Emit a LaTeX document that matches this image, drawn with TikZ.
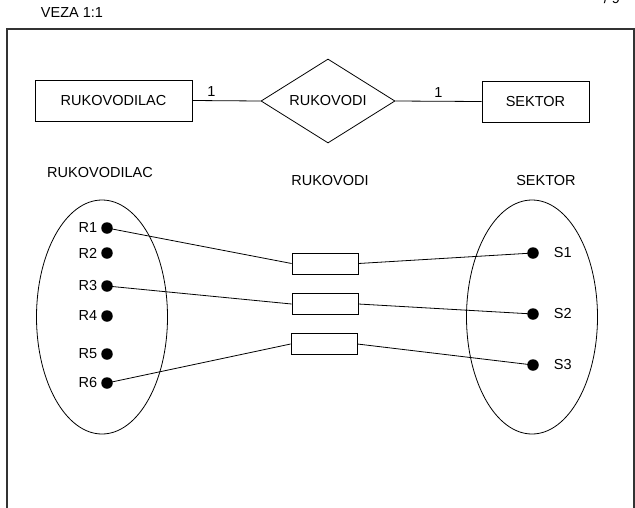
\documentclass[tikz,border=0pt]{standalone}
\usepackage{fontspec}
\setmainfont{Liberation Sans}
\usetikzlibrary{positioning,shapes.geometric}

\begin{document}
\begin{tikzpicture} [
        x=1pt, y=-1pt,
        font=\fontsize{14.5}{16}\selectfont,
        line width=0.8pt,
        entnode/.style={
            rectangle,
            draw,
            minimum height=41pt
        },
        relnode/.style={
            diamond,
            draw,
            aspect=1.6,
            inner sep=1pt,
            minimum width=134pt,
            minimum height=84pt
        },
        setnode/.style={
            ellipse,
            draw,
            minimum width=131pt,
            minimum height=234pt
        },
        dotnode/.style={
            circle,
            fill=black,
            inner sep=0pt,
            minimum size=11.5pt,
            label distance=5pt
        },
        pairnode/.style={
            rectangle,
            draw,
            minimum width=66pt,
            minimum height=21pt
        }
    ]

        \useasboundingbox (0,0) rectangle (635,507);

        % frame and title
        \draw[line width=1.3pt, black!80] (7,520) -- (7,29) -- (634,29) -- (634,520);
        \node (title) at (72,13) {VEZA 1:1};
        \node[anchor=base] (page) at (612,3) {/ 9};

        % ER part
        \node[entnode, minimum width=157pt] (rukovodilac) at (113.5,100.5) {RUKOVODILAC};
        \node[relnode]                      (rukovodi)    at (328,101)     {RUKOVODI};
        \node[entnode, minimum width=107pt] (sektor)      at (535.5,101.5) {SEKTOR};

        \draw (rukovodilac.east) -- node[above, pos=0.28] {1} (rukovodi.west);
        \draw (rukovodi.east)    -- node[above]           {1} (sektor.west);

        % set labels
        \node (lblRukovodilac) at (100,173) {RUKOVODILAC};
        \node (lblRukovodi)    at (330,181) {RUKOVODI};
        \node (lblSektor)      at (546,181) {SEKTOR};

        % sets
        \node[setnode] (setR) at (102,317) {};
        \node[setnode] (setS) at (532,317) {};

        \node[dotnode, label=left:R1] (r1) at (107,228) {};
        \node[dotnode, label=left:R2] (r2) at (107,253) {};
        \node[dotnode, label=left:R3] (r3) at (107,286) {};
        \node[dotnode, label=left:R4] (r4) at (107,316) {};
        \node[dotnode, label=left:R5] (r5) at (107,354) {};
        \node[dotnode, label=left:R6] (r6) at (107,383) {};

        \node[dotnode, label={[label distance=11pt]right:S1}] (s1) at (533,253) {};
        \node[dotnode, label={[label distance=11pt]right:S2}] (s2) at (533,314) {};
        \node[dotnode, label={[label distance=11pt]right:S3}] (s3) at (533,365) {};

        % pairs
        \node[pairnode] (p1) at (325,263.5) {};
        \node[pairnode] (p2) at (325,304)   {};
        \node[pairnode] (p3) at (324,344)   {};

        \draw (r1.center) -- (p1.west);
        \draw (p1.east) -- (s1.center);
        \draw (r3.center) -- (p2.west);
        \draw (p2.east) -- (s2.center);
        \draw (r6.center) -- (p3.west);
        \draw (p3.east) -- (s3.center);

    \end{tikzpicture}
\end{document}
